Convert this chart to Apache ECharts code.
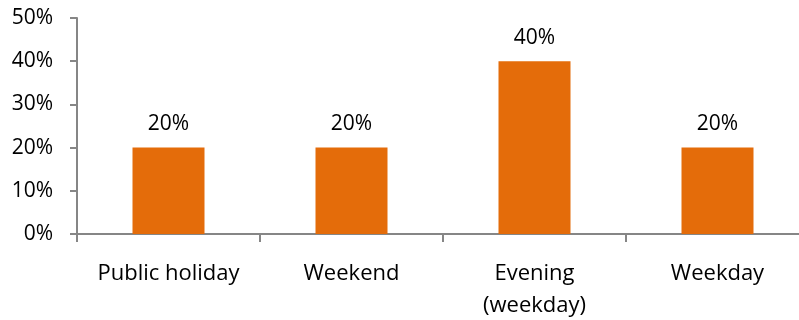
<!DOCTYPE html>
<html>
<head>
<meta charset="utf-8">
<script src="https://cdn.jsdelivr.net/npm/echarts@6/dist/echarts.min.js"></script>
<style>
  html, body { margin: 0; padding: 0; background: #fff; }
  #chart { width: 799px; height: 320px; }
</style>
</head>
<body>
<div id="chart"></div>
<script>
// Share of occurrences by time of day / type of day
const categories = ['Public holiday', 'Weekend', 'Evening\n(weekday)', 'Weekday'];
const shares = [20, 20, 40, 20];
const yTicks = [0, 10, 20, 30, 40, 50];

const FONT = '"Open Sans", "Liberation Sans", sans-serif';
const AXIS_GREY = '#868686';

const chart = echarts.init(document.getElementById('chart'), null, { renderer: 'canvas' });
chart.setOption({
  animation: false,
  grid: {
    left: 77, top: 18, width: 732, height: 216,
    containLabel: false,
    outerBoundsMode: 'none'
  },
  xAxis: {
    type: 'category',
    data: categories,
    axisLine: { lineStyle: { color: AXIS_GREY, width: 2 } },
    axisTick: { show: true, length: 8, alignWithLabel: false, lineStyle: { color: AXIS_GREY, width: 2 } },
    axisLabel: { color: '#000', fontFamily: FONT, fontSize: 22, margin: 24, lineHeight: 32, interval: 0 }
  },
  yAxis: {
    type: 'value',
    min: yTicks[0],
    max: yTicks[yTicks.length - 1],
    interval: 10,
    splitLine: { show: false },
    axisLine: { show: true, lineStyle: { color: AXIS_GREY, width: 2 } },
    axisTick: { show: true, length: 7, lineStyle: { color: AXIS_GREY, width: 2 } },
    axisLabel: { color: '#000', fontFamily: FONT, fontSize: 21, margin: 24, formatter: v => v + '%' }
  },
  series: [{
    type: 'bar',
    data: shares,
    barWidth: 72,
    itemStyle: { color: '#E46C0A' },
    label: {
      show: true,
      position: 'top',
      distance: 13,
      color: '#000',
      fontFamily: FONT,
      fontSize: 21,
      formatter: p => p.value + '%'
    }
  }]
});
</script>
</body>
</html>
